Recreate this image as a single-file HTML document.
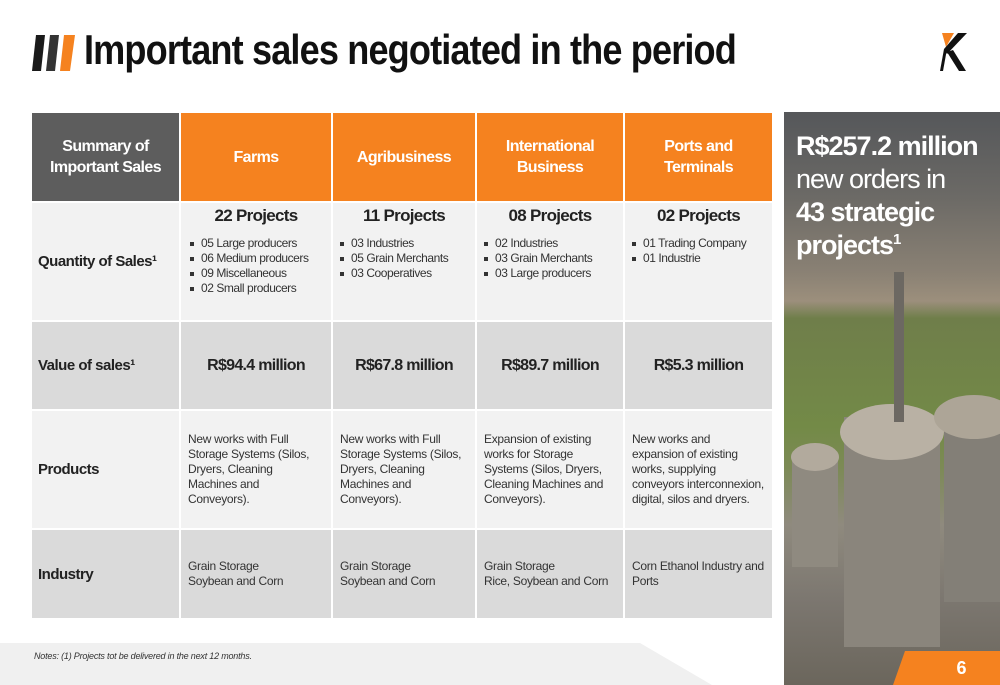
<!DOCTYPE html>
<html><head><meta charset="utf-8"><style>
*{margin:0;padding:0;box-sizing:border-box}
body{width:1000px;height:685px;position:relative;overflow:hidden;background:#fff;font-family:"Liberation Sans",Arial,sans-serif;color:#222}
.a{position:absolute}
.cell{position:absolute;display:flex;align-items:center;font-size:12px;line-height:15px;letter-spacing:-0.45px}
.hd{color:#fff;font-weight:bold;font-size:16px;line-height:21px;justify-content:center;text-align:center;letter-spacing:-0.6px}
.lab{font-weight:bold;font-size:15px;padding-left:6px;letter-spacing:-0.5px}
.l1{background:#f2f2f2}.l2{background:#dadada}
ul{list-style:none}
li{position:relative;padding-left:14px;font-size:12px;line-height:15px;color:#333}
li:before{content:"";position:absolute;left:3px;top:6px;width:4px;height:4px;background:#333}
.pj{font-weight:bold;font-size:17px;margin-bottom:13px;text-align:center;letter-spacing:-0.7px}
.val{font-weight:bold;font-size:16px;justify-content:center;letter-spacing:-0.7px}
.txt{padding-left:7px;padding-right:8px;color:#333;letter-spacing:-0.3px}
</style></head><body>
<div class="a" style="left:32px;top:35px;width:46px;height:36px">
<svg width="46" height="36"><polygon points="4,0 13,0 9,36 0,36" fill="#1a1a1a"/><polygon points="18,0 27,0 23,36 14,36" fill="#333"/><polygon points="32,0 43,0 38,36 28,36" fill="#f5821f"/></svg></div>
<div class="a" style="left:84px;top:26px;font-size:42px;font-weight:bold;letter-spacing:-1px;color:#111;transform:scaleX(0.86);transform-origin:left;white-space:nowrap">Important sales negotiated in the period</div>
<div class="a" style="left:938px;top:33px"><svg width="34" height="38"><polygon points="4,0 16,0 8,14" fill="#f5821f"/><polygon points="2,38 6,16 9,16 5,38" fill="#111"/><polygon points="6,16 20,0 29,0 9,21" fill="#111"/><polygon points="9,19 15,17 28,38 21,38" fill="#111"/></svg></div>

<div class="cell hd" style="left:32px;top:113px;width:147px;height:88px;background:#5d5d5d">Summary of<br>Important Sales</div>
<div class="cell hd" style="left:181px;top:113px;width:150px;height:88px;background:#f5821f">Farms</div>
<div class="cell hd" style="left:333px;top:113px;width:142px;height:88px;background:#f5821f">Agribusiness</div>
<div class="cell hd" style="left:477px;top:113px;width:146px;height:88px;background:#f5821f">International<br>Business</div>
<div class="cell hd" style="left:625px;top:113px;width:147px;height:88px;background:#f5821f">Ports and<br>Terminals</div>

<div class="cell lab l1" style="left:32px;top:203px;width:147px;height:117px">Quantity of Sales¹</div>
<div class="cell l1" style="left:181px;top:203px;width:150px;height:117px;padding-left:6px;align-items:flex-start;padding-top:5px"><div style="width:138px"><div class="pj">22 Projects</div><ul><li>05 Large producers</li><li>06 Medium producers</li><li>09 Miscellaneous</li><li>02 Small producers</li></ul></div></div>
<div class="cell l1" style="left:333px;top:203px;width:142px;height:117px;padding-left:4px;align-items:flex-start;padding-top:5px"><div style="width:134px"><div class="pj">11 Projects</div><ul><li>03 Industries</li><li>05 Grain Merchants</li><li>03 Cooperatives</li></ul></div></div>
<div class="cell l1" style="left:477px;top:203px;width:146px;height:117px;padding-left:4px;align-items:flex-start;padding-top:5px"><div style="width:138px"><div class="pj">08 Projects</div><ul><li>02 Industries</li><li>03 Grain Merchants</li><li>03 Large producers</li></ul></div></div>
<div class="cell l1" style="left:625px;top:203px;width:147px;height:117px;padding-left:4px;align-items:flex-start;padding-top:5px"><div style="width:139px"><div class="pj">02 Projects</div><ul style="margin-top:4px"><li>01 Trading Company</li><li>01 Industrie</li></ul></div></div>

<div class="cell lab l2" style="left:32px;top:322px;width:147px;height:87px">Value of sales¹</div>
<div class="cell val l2" style="left:181px;top:322px;width:150px;height:87px">R$94.4 million</div>
<div class="cell val l2" style="left:333px;top:322px;width:142px;height:87px">R$67.8 million</div>
<div class="cell val l2" style="left:477px;top:322px;width:146px;height:87px">R$89.7 million</div>
<div class="cell val l2" style="left:625px;top:322px;width:147px;height:87px">R$5.3 million</div>

<div class="cell lab l1" style="left:32px;top:411px;width:147px;height:117px">Products</div>
<div class="cell txt l1" style="left:181px;top:411px;width:150px;height:117px">New works with Full Storage Systems (Silos, Dryers, Cleaning Machines and Conveyors).</div>
<div class="cell txt l1" style="left:333px;top:411px;width:142px;height:117px">New works with Full Storage Systems (Silos, Dryers, Cleaning Machines and Conveyors).</div>
<div class="cell txt l1" style="left:477px;top:411px;width:146px;height:117px">Expansion of existing works for Storage Systems (Silos, Dryers, Cleaning Machines and Conveyors).</div>
<div class="cell txt l1" style="left:625px;top:411px;width:147px;height:117px">New works and expansion of existing works, supplying conveyors interconnexion, digital, silos and dryers.</div>

<div class="cell lab l2" style="left:32px;top:530px;width:147px;height:88px">Industry</div>
<div class="cell txt l2" style="left:181px;top:530px;width:150px;height:88px">Grain Storage<br>Soybean and Corn</div>
<div class="cell txt l2" style="left:333px;top:530px;width:142px;height:88px">Grain Storage<br>Soybean and Corn</div>
<div class="cell txt l2" style="left:477px;top:530px;width:146px;height:88px">Grain Storage<br>Rice, Soybean and Corn</div>
<div class="cell txt l2" style="left:625px;top:530px;width:147px;height:88px">Corn Ethanol Industry and Ports</div>

<div class="a" style="left:0;top:643px;width:712px;height:42px;background:#f0f0f0;clip-path:polygon(0 0,640px 0,100% 100%,0 100%)"></div>
<div class="a" style="left:34px;top:651px;font-size:9px;font-style:italic;color:#333;letter-spacing:-0.2px">Notes: (1) Projects tot be delivered in the next 12 months.</div>

<div class="a" style="left:784px;top:112px;width:216px;height:573px;background:linear-gradient(180deg,#55575a 0%,#6c6a66 15%,#8a8174 28%,#9c8f7c 33%,#6f7e4a 36%,#738a47 55%,#7c8a55 62%,#8f8a7e 72%,#7c7770 85%,#6b665c 100%)">
<svg width="216" height="573" style="position:absolute;left:0;top:0">
<rect x="60" y="305" width="96" height="230" fill="#8a857c"/><ellipse cx="108" cy="320" rx="52" ry="28" fill="#b9b1a4"/>
<rect x="160" y="300" width="56" height="190" fill="#837f77"/><ellipse cx="190" cy="305" rx="40" ry="22" fill="#ada597"/>
<rect x="8" y="345" width="46" height="110" fill="#8f8a80"/><ellipse cx="31" cy="345" rx="24" ry="14" fill="#b2aa9d"/>
<rect x="110" y="160" width="10" height="150" fill="#6c6862"/>
</svg></div>
<div class="a" style="left:796px;top:130px;color:#fff;font-size:27px;line-height:33px;letter-spacing:-1px">
<b>R$257.2 million</b><br>new orders in<br><b>43 strategic<br>projects<sup style="font-size:15px;line-height:0;vertical-align:10px">1</sup></b></div>
<div class="a" style="left:893px;top:651px;width:107px;height:34px;background:#f5821f;clip-path:polygon(12px 0,100% 0,100% 100%,0 100%);color:#fff;font-weight:bold;font-size:18px;text-align:center;line-height:34px;padding-left:30px">6</div>
</body></html>
